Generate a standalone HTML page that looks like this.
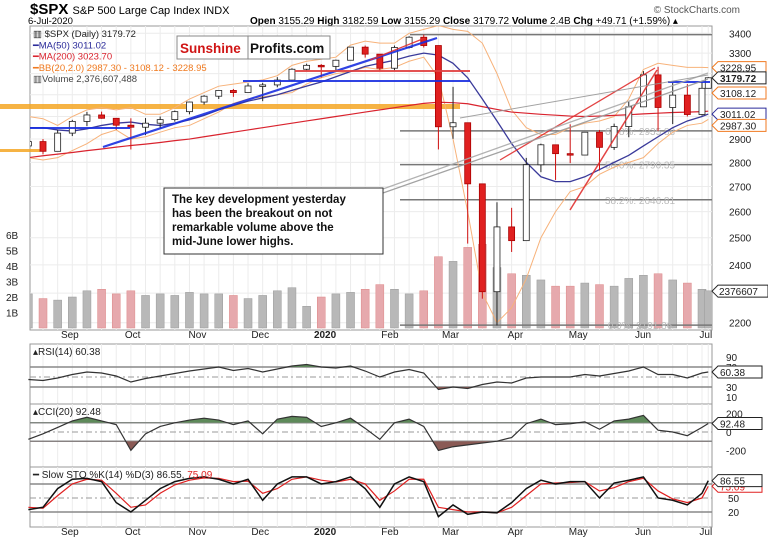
<!DOCTYPE html>
<html><head><meta charset="utf-8"><style>
body{margin:0;background:#fff}
svg{display:block;font-family:"Liberation Sans",sans-serif}
</style></head><body>
<svg id="c" width="768" height="543" viewBox="0 0 768 543" xmlns="http://www.w3.org/2000/svg">
<defs>
<clipPath id="mainClip"><rect x="30" y="26" width="682" height="304"/></clipPath>
</defs>
<g>
<text x="30" y="14" font-size="15" font-weight="bold">$SPX <tspan font-size="11" font-weight="normal">S&amp;P 500 Large Cap Index  INDX</tspan></text>
<text x="28" y="24" font-size="9.5">6-Jul-2020</text>
<text x="250" y="24" font-size="10"><tspan font-weight="bold">Open</tspan> 3155.29 <tspan font-weight="bold">High</tspan> 3182.59 <tspan font-weight="bold">Low</tspan> 3155.29 <tspan font-weight="bold">Close</tspan> 3179.72 <tspan font-weight="bold">Volume</tspan> 2.4B <tspan font-weight="bold">Chg</tspan> +49.71 (+1.59%) ▴</text>
<text x="740" y="13" font-size="10" fill="#555" text-anchor="end">© StockCharts.com</text>
</g>
<g id="main"></g>
<g id="rsi"></g>
<g id="cci"></g>
<g id="sto"></g>
<g id="over"></g>
</svg>
<script>
const dayOffsets=[4,11,18,25,32,39,46,53,60,67,74,81,88,95,102,109,116,123,130,137,144,151,158,165,172,179,186,193,200,207,214,221,228,235,242,249,256,263,270,277,284,291,298,305,312,319,326,329];
const closes=[2889,2847,2926,2978,3007,2992,2961,2952,2970,2986,3022,3066,3093,3120,3110,3141,3146,3169,3221,3240,3235,3265,3330,3295,3226,3328,3380,3338,2954,2972,2711,2305,2541,2489,2790,2875,2837,2831,2930,2864,2955,3044,3194,3041,3098,3009,3130,3180];
const highs=[2900,2900,2940,2985,3021,3022,2985,2992,2993,3000,3027,3067,3098,3121,3127,3154,3156,3183,3226,3248,3246,3268,3330,3338,3285,3338,3385,3393,3260,3137,2940,2614,2637,2615,2819,2880,2870,2965,2931,2940,2968,3068,3212,3233,3156,3150,3166,3183];
const lows=[2822,2834,2856,2913,2957,2990,2940,2855,2917,2947,2977,3010,3054,3080,3090,3113,3070,3135,3165,3215,3181,3214,3271,3278,3214,3214,3323,3328,2855,2901,2478,2281,2191,2447,2495,2759,2727,2797,2837,2766,2853,2908,3052,2936,2966,3000,3004,3155];
const firstOpen=2870;
const volumes=[2.2,1.9,1.8,2.0,2.4,2.5,2.2,2.4,2.1,2.2,2.1,2.3,2.2,2.2,2.1,1.9,2.1,2.4,2.6,1.4,2.0,2.2,2.3,2.5,2.8,2.5,2.2,2.4,4.6,4.3,5.2,5.4,3.9,3.5,3.4,3.1,2.7,2.7,2.9,2.8,2.7,3.2,3.4,3.5,3.1,2.9,2.5,2.4];
const ma50=[2950,2950,2940,2935,2945,2960,2970,2975,2965,2960,2970,2985,3005,3030,3050,3070,3085,3100,3120,3140,3160,3185,3210,3235,3250,3265,3285,3300,3290,3250,3180,3080,2980,2880,2800,2740,2720,2720,2740,2770,2800,2830,2870,2910,2950,2980,3000,3011];
const ma200=[2820,2828,2835,2842,2850,2857,2865,2872,2878,2885,2893,2900,2910,2920,2930,2940,2950,2960,2970,2980,2990,3000,3010,3020,3030,3040,3050,3060,3065,3063,3058,3045,3032,3020,3015,3010,3006,3002,3000,3002,3005,3008,3012,3015,3018,3020,3022,3024];
const bbUpper=[3000,2990,2960,3000,3030,3040,3030,3040,3010,3010,3040,3080,3110,3140,3150,3160,3170,3190,3240,3260,3270,3280,3340,3360,3350,3350,3400,3420,3440,3420,3410,3350,3200,3030,2950,2920,2920,2950,2970,2980,3000,3080,3220,3250,3240,3230,3230,3229];
const bbLower=[2820,2810,2820,2850,2880,2920,2940,2900,2910,2930,2950,2960,2990,3020,3060,3080,3090,3100,3110,3150,3180,3200,3210,3230,3220,3230,3260,3280,3180,2900,2600,2300,2200,2250,2350,2500,2600,2680,2700,2750,2780,2800,2820,2880,2930,2960,2970,2987];
const rsiVals=[45,43,48,55,60,58,52,40,47,52,57,62,66,70,63,67,60,66,72,75,70,68,72,62,50,60,65,58,25,30,27,35,40,38,48,50,50,50,55,52,57,62,70,55,55,48,58,60];
const cciVals=[-80,-20,50,120,160,120,80,-200,-20,60,100,130,150,130,80,120,-20,140,170,160,60,100,150,40,-80,100,140,60,-200,-160,-140,-120,-100,-60,90,140,80,90,110,30,120,140,180,20,0,-40,50,92];
const stoK=[25,30,70,90,92,85,40,20,45,70,85,92,95,90,80,90,45,80,95,95,80,85,95,70,30,80,95,85,10,35,15,20,18,40,70,88,80,85,85,50,82,88,95,50,45,35,60,87];
const stoD=[30,28,55,80,90,88,60,30,35,60,78,88,93,92,85,86,60,70,90,95,88,84,90,80,45,65,90,90,30,25,20,20,18,30,55,80,82,83,85,65,72,85,92,65,48,40,50,75];
const priceTicks=[3400,3300,2900,2800,2700,2600,2500,2400,2200];
const volTicks=[1,2,3,4,5,6];
const monthLabels=["Sep","Oct","Nov","Dec","2020","Feb","Mar","Apr","May","Jun","Jul"];
const monthDays=[20,50,81,111,142,173,202,233,263,294,324];
const fibLevels=[3393.52,2935.88,2790.35,2646.81,2191.86];
const fibNames=["100.0%","61.8%","50.0%","38.2%","0.0%"];

const NS="http://www.w3.org/2000/svg";
function mk(parent,tag,attrs,text){const e=document.createElementNS(NS,tag);for(const k in attrs)e.setAttribute(k,attrs[k]);if(text!==undefined)e.textContent=text;parent.appendChild(e);return e;}
const X0=30,X1=712;
const xd=d=>20+d*2.092;
const yP=p=>33.3+664.8*(Math.log(3400)-Math.log(p));
const yV=v=>328-v*15.5;
const yR=v=>402-v*0.5;
const yC=v=>Math.max(404,Math.min(467,432-v*0.092));
const yS=v=>521.3-v*0.467;

const main=document.getElementById('main');
function frame(g,y0,y1,name){
  const r=mk(g,'rect',{x:X0,y:y0,width:X1-X0,height:y1-y0,fill:'#fff',stroke:'#999','stroke-width':1});
  
  
  dayOffsets.forEach(d=>{const x=xd(d);if(x>X0&&x<X1)mk(g,'line',{x1:x,x2:x,y1:y0,y2:y1,stroke:'#ececec','stroke-width':1});});
}
frame(main,26,330,'price-frame');
for(let p=2200;p<=3400;p+=100)mk(main,'line',{x1:X0,x2:X1,y1:yP(p),y2:yP(p),stroke:'#ececec'});
priceTicks.forEach(p=>{const t=mk(main,'text',{x:729,y:yP(p)+4,'font-size':10,fill:'#222'},String(p));

});
volTicks.forEach(v=>{const t=mk(main,'text',{x:6,y:yV(v)+4,'font-size':10,fill:'#222'},v+'B');

});
mk(main,'rect',{x:0,y:104,width:460,height:5,fill:'#f5a623',opacity:0.85,});
mk(main,'rect',{x:0,y:149,width:40,height:3,fill:'#f5a623',opacity:0.85,});
const gm=mk(main,'g',{'clip-path':'url(#mainClip)'});
dayOffsets.forEach((d,i)=>{const o=i?closes[i-1]:firstOpen;const up=closes[i]>=o;
const b=mk(gm,'rect',{x:xd(d)-4,y:yV(volumes[i]),width:8,height:328-yV(volumes[i]),fill:up?'#b8b8b8':'#e6a9ad',stroke:up?'#999':'#d88',
'stroke-width':0.5});

});
fibLevels.forEach((f,i)=>{mk(gm,'line',{x1:i==0?410:400,x2:X1,y1:yP(f),y2:yP(f),stroke:'#777','stroke-width':1.5});
if(i>0){const t=mk(gm,'text',{x:640,y:yP(f)+4,'font-size':10,fill:'#bbb','text-anchor':'middle'},fibNames[i]+': '+f.toFixed(2));

}});
function line(arr,color,w,dash,name){const pts=dayOffsets.map((d,i)=>xd(d)+','+yP(arr[i])).join(' ');
const l=mk(gm,'polyline',{points:pts,fill:'none',stroke:color,'stroke-width':w,'stroke-dasharray':dash||'none'});

}
line(bbUpper,'#f7b27a',1,'','bb-upper');
line(bbLower,'#f7b27a',1,'','bb-lower');
line(ma200,'#d9232e',1.2,'','ma200-line');
line(ma50,'#3a3a9a',1.3,'','ma50-line');
dayOffsets.forEach((d,i)=>{const o=i?closes[i-1]:firstOpen,c=closes[i],x=xd(d);const up=c>=o;
mk(gm,'line',{x1:x,x2:x,y1:yP(highs[i]),y2:yP(lows[i]),stroke:up?'#222':'#d01010','stroke-width':1});
const top=yP(Math.max(o,c)),h=Math.max(1.5,yP(Math.min(o,c))-top);
const r=mk(gm,'rect',{x:x-3,y:top,width:6,height:h,fill:up?'#fff':'#e02020',stroke:up?'#222':'#a00','stroke-width':0.8});

});
const ov=document.getElementById('over');
[[103,147,437,38,'#1a2fe0',2.2,'blue-trendline'],[30,128,130,128,'#1a2fe0',2,'blue-support-left'],[243,81,470,81,'#1a2fe0',2,'blue-resistance-feb'],[668,82,710,82,'#1a2fe0',2,'blue-resistance-june'],
[295,71,470,71,'#e04040',2,'red-resistance-feb'],[570,210,657,70,'#e03030',1.5,'red-trendline-1'],[500,160,655,68,'#e03030',1.3,'red-trendline-2'],[370,60,425,38,'#e03030',1.3,'red-trendline-top'],
[380,194,708,79,'#999',1.3,'gray-channel-1'],[380,190,708,73,'#aaa',1.3,'gray-channel-2'],[460,118,708,75,'#999',1,'gray-channel-3']].forEach(a=>{
const l=mk(ov,'line',{x1:a[0],y1:a[1],x2:a[2],y2:a[3],stroke:a[4],'stroke-width':a[5],opacity:0.9});

});
const leg=[["▥ $SPX (Daily) 3179.72","#222"],["━MA(50) 3011.02","#2b2b9a"],["━MA(200) 3023.70","#d9232e"],["━BB(20,2.0) 2987.30 - 3108.12 - 3228.95","#f07a20"],["▥Volume 2,376,607,488","#444"]];
leg.forEach((l,i)=>{const t=mk(ov,'text',{x:33,y:37+i*11.3,'font-size':9.5,fill:l[1]},l[0]);

});
mk(ov,'rect',{x:177,y:36,width:153,height:23,fill:'#fff',stroke:'#888','stroke-width':1,});
mk(ov,'line',{x1:248,x2:248,y1:36,y2:59,stroke:'#888'});
mk(ov,'text',{x:180,y:53,'font-size':13.5,'font-weight':'bold',fill:'#d01515',},'Sunshine');
mk(ov,'text',{x:250,y:53,'font-size':13.5,'font-weight':'bold',fill:'#111',},'Profits.com');
mk(ov,'rect',{x:164,y:188,width:219,height:66,fill:'#fff',stroke:'#333','stroke-width':1,});
["The key development yesterday","has been the breakout on not","remarkable volume above the","mid-June lower highs."].forEach((s,i)=>{
const t=mk(ov,'text',{x:172,y:203+i*14,'font-size':11.5,'font-weight':'bold',fill:'#111'},s);

});
[[3228.95,'#f07a20',false,0],[3179.72,'#222',true,0],[3108.12,'#f07a20',false,0],[3011.02,'#2b2b9a',false,0],[2987.30,'#f07a20',false,6]].forEach(b=>{
const y=yP(b[0])+b[3];
const g=mk(ov,'g',{});


mk(g,'path',{d:`M712 ${y} L718 ${y-6} L766 ${y-6} L766 ${y+6} L718 ${y+6} Z`,fill:'#fff',stroke:b[1],'stroke-width':1});
mk(g,'text',{x:720,y:y+4,'font-size':10,'font-weight':b[2]?'bold':'normal',fill:'#222'},b[0].toFixed(2));});
(function(){const y=yV(2.376);const g=mk(ov,'g',{});


mk(g,'path',{d:`M712 ${y} L718 ${y-6} L768 ${y-6} L768 ${y+6} L718 ${y+6} Z`,fill:'#fff',stroke:'#222'});
mk(g,'text',{x:719,y:y+4,'font-size':10,fill:'#222'},'2376607');})();
[338,535].forEach(yy=>monthDays.forEach((d,i)=>{const t=mk(ov,'text',{x:xd(d)+8,y:yy,'font-size':10,'font-weight':monthLabels[i]=='2020'?'bold':'normal',fill:'#222','text-anchor':'middle'},monthLabels[i]);

}));

function panel(id,y0,y1,vals,yf,hi,lo,mid,ticks,tickVals,label,valTag,name){
  const g=document.getElementById(id);frame(g,y0,y1,name+'-frame');
  [hi,lo].forEach(v=>mk(g,'line',{x1:X0,x2:X1,y1:yf(v),y2:yf(v),stroke:'#888','stroke-width':1.5}));
  mk(g,'line',{x1:X0,x2:X1,y1:yf(mid),y2:yf(mid),stroke:'#999','stroke-dasharray':'6 3 2 3'});
  const pts=dayOffsets.map((d,i)=>[xd(d),yf(vals[i])]);
  const cid=id+'clipHi',cid2=id+'clipLo';
  const defs=mk(g,'defs',{});
  const c1=mk(defs,'clipPath',{id:cid});mk(c1,'rect',{x:X0,y:y0,width:X1-X0,height:yf(hi)-y0});
  const c2=mk(defs,'clipPath',{id:cid2});mk(c2,'rect',{x:X0,y:yf(lo),width:X1-X0,height:y1-yf(lo)});
  const polyHi=pts.map(p=>p.join(',')).join(' ')+` ${pts[pts.length-1][0]},${yf(hi)} ${pts[0][0]},${yf(hi)}`;
  const polyLo=pts.map(p=>p.join(',')).join(' ')+` ${pts[pts.length-1][0]},${yf(lo)} ${pts[0][0]},${yf(lo)}`;
  mk(g,'polygon',{points:polyHi,fill:'#5e8a5a','clip-path':`url(#${cid})`});
  mk(g,'polygon',{points:polyLo,fill:'#8a5a55','clip-path':`url(#${cid2})`});
  const l=mk(g,'polyline',{points:pts.map(p=>p.join(',')).join(' '),fill:'none',stroke:'#333','stroke-width':1.2});
  
  
  tickVals.forEach((v,i)=>{const t=mk(g,'text',{x:726,y:yf(v)+4,'font-size':10,fill:'#222'},ticks[i]);
  
  });
  const t=mk(g,'text',{x:33,y:y0+11,'font-size':10,fill:'#222'},label);
  
  
  const y=yf(vals[vals.length-1]);
  mk(g,'path',{d:`M712 ${y} L718 ${y-6} L762 ${y-6} L762 ${y+6} L718 ${y+6} Z`,fill:'#fff',stroke:'#222'});
  mk(g,'text',{x:720,y:y+4,'font-size':10,fill:'#222'},valTag);
  return g;
}
panel('rsi',344,404,rsiVals,yR,70,30,50,['90','70','30','10'],[90,70,30,10],'▴RSI(14) 60.38','60.38','rsi');
panel('cci',404,467,cciVals,yC,100,-100,0,['200','0','-200'],[200,0,-200],'▴CCI(20) 92.48','92.48','cci');
(function(){const g=document.getElementById('sto');frame(g,467,527,'sto-frame');
[80,20].forEach(v=>mk(g,'line',{x1:X0,x2:X1,y1:yS(v),y2:yS(v),stroke:'#888','stroke-width':1.5}));
mk(g,'line',{x1:X0,x2:X1,y1:yS(50),y2:yS(50),stroke:'#999','stroke-dasharray':'6 3 2 3'});
const d=mk(g,'polyline',{points:dayOffsets.map((dd,i)=>xd(dd)+','+yS(stoD[i])).join(' '),fill:'none',stroke:'#e02020','stroke-width':1.2});


const k=mk(g,'polyline',{points:dayOffsets.map((dd,i)=>xd(dd)+','+yS(stoK[i])).join(' '),fill:'none',stroke:'#111','stroke-width':1.5});


[['50',50],['20',20]].forEach(a=>mk(g,'text',{x:728,y:yS(a[1])+4,'font-size':10,fill:'#222'},a[0]));
const t=mk(g,'text',{x:33,y:478,'font-size':10,fill:'#222'},'━ Slow STO %K(14) %D(3) 86.55, ');


mk(t,'tspan',{fill:'#e02020'},'75.09');
let y=yS(stoD[stoD.length-1]);
mk(g,'path',{d:`M712 ${y} L718 ${y-6} L762 ${y-6} L762 ${y+6} L718 ${y+6} Z`,fill:'#fff',stroke:'#e02020'});
mk(g,'text',{x:720,y:y+4,'font-size':10,fill:'#e02020'},'75.09');
y=yS(stoK[stoK.length-1]);
mk(g,'path',{d:`M712 ${y} L718 ${y-6} L762 ${y-6} L762 ${y+6} L718 ${y+6} Z`,fill:'#fff',stroke:'#222'});
mk(g,'text',{x:720,y:y+4,'font-size':10,fill:'#222'},'86.55');})();
</script>
</body></html>
